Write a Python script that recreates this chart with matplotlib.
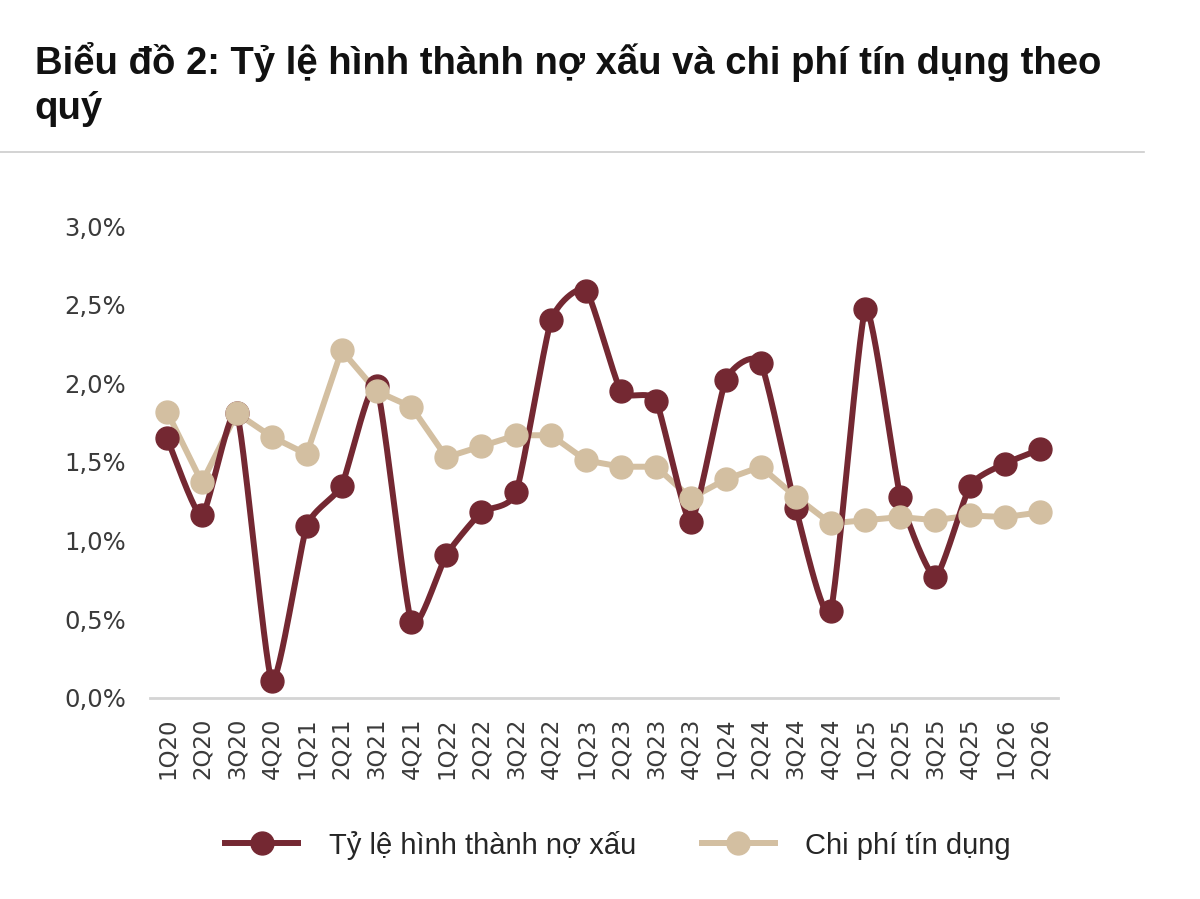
import numpy as np
import matplotlib
matplotlib.use("Agg")
import matplotlib.pyplot as plt
from matplotlib.ticker import FuncFormatter
from matplotlib.lines import Line2D

quarters = ["1Q20", "2Q20", "3Q20", "4Q20", "1Q21", "2Q21", "3Q21", "4Q21",
            "1Q22", "2Q22", "3Q22", "4Q22", "1Q23", "2Q23", "3Q23", "4Q23",
            "1Q24", "2Q24", "3Q24", "4Q24", "1Q25", "2Q25", "3Q25", "4Q25",
            "1Q26", "2Q26"]
npl_formation = [1.65, 1.16, 1.81, 0.11, 1.09, 1.35, 1.98, 0.48,
                 0.91, 1.18, 1.31, 2.40, 2.59, 1.95, 1.89, 1.12,
                 2.02, 2.13, 1.21, 0.55, 2.47, 1.28, 0.77, 1.35,
                 1.49, 1.58]
credit_cost = [1.82, 1.37, 1.81, 1.66, 1.55, 2.21, 1.95, 1.85,
               1.53, 1.60, 1.67, 1.67, 1.51, 1.47, 1.47, 1.27,
               1.39, 1.47, 1.28, 1.11, 1.13, 1.15, 1.13, 1.16,
               1.15, 1.18]
yticks = [0.0, 0.5, 1.0, 1.5, 2.0, 2.5, 3.0]

title = "Biểu đồ 2: Tỷ lệ hình thành nợ xấu và chi phí tín dụng theo\nquý"
label_npl = "Tỷ lệ hình thành nợ xấu"
label_cc = "Chi phí tín dụng"

RED = "#742832"
BEIGE = "#D3BFA1"


def cardinal(x, y, s=0.55, n=30):
    x = np.asarray(x, float)
    y = np.asarray(y, float)
    N = len(x)
    def tangents(p):
        m = np.zeros(N)
        m[1:-1] = s * (p[2:] - p[:-2]) / 2
        m[0] = s * (p[1] - p[0])
        m[-1] = s * (p[-1] - p[-2])
        return m
    mx, my = tangents(x), tangents(y)
    t = np.linspace(0, 1, n, endpoint=False)
    h00 = 2 * t**3 - 3 * t**2 + 1
    h10 = t**3 - 2 * t**2 + t
    h01 = -2 * t**3 + 3 * t**2
    h11 = t**3 - t**2
    xs, ys = [], []
    for i in range(N - 1):
        xs.append(h00 * x[i] + h10 * mx[i] + h01 * x[i + 1] + h11 * mx[i + 1])
        ys.append(h00 * y[i] + h10 * my[i] + h01 * y[i + 1] + h11 * my[i + 1])
    xs.append([x[-1]])
    ys.append([y[-1]])
    return np.concatenate(xs), np.concatenate(ys)


fig = plt.figure(figsize=(12, 8.99), dpi=100)
ax = fig.add_axes([0.1246, 0.2236, 0.7567, 0.525])

xi = np.arange(len(quarters))
LW = 4.3
MS = 16.5

ax.plot(xi, credit_cost, color=BEIGE, lw=LW, solid_capstyle="round",
        solid_joinstyle="round", zorder=2, clip_on=False)
sx, sy = cardinal(xi, npl_formation)
ax.plot(sx, sy, color=RED, lw=LW, solid_capstyle="round", zorder=4, clip_on=False)
ax.plot(xi, npl_formation, linestyle="none", marker="o", ms=MS,
        color=RED, zorder=5, clip_on=False)
ax.plot(xi, credit_cost, linestyle="none", marker="o", ms=MS,
        color=BEIGE, zorder=7, clip_on=False)

ax.set_xlim(-0.5, len(quarters) - 0.5)
ax.set_ylim(0, 3.0)
ax.set_yticks(yticks)
ax.yaxis.set_major_formatter(FuncFormatter(lambda v, p: f"{v:.1f}".replace(".", ",") + "%"))
ax.set_xticks(xi)
ax.set_xticklabels(quarters, rotation=90)

for s in ["top", "right", "left"]:
    ax.spines[s].set_visible(False)
ax.spines["bottom"].set_color("#d4d4d4")
ax.spines["bottom"].set_linewidth(2)
ax.tick_params(axis="both", length=0, colors="#3a3a3a")
ax.tick_params(axis="y", pad=17, labelsize=17.5)
ax.tick_params(axis="x", pad=14, labelsize=16.5)
for lab in ax.get_xticklabels() + ax.get_yticklabels():
    lab.set_family("DejaVu Sans")

fig.text(0.029, 1 - 42 / 899, title, fontsize=27.5, fontweight="bold",
         family=["Liberation Sans", "DejaVu Sans"], color="#111111",
         va="top", ha="left", linespacing=1.32)
fig.add_artist(Line2D([0, 0.953], [1 - 152 / 899, 1 - 152 / 899],
                      color="#cccccc", lw=1.2, transform=fig.transFigure))

handles = [Line2D([], [], color=RED, lw=LW, marker="o", ms=MS),
           Line2D([], [], color=BEIGE, lw=LW, marker="o", ms=MS)]
fig.legend(handles, [label_npl, label_cc], loc="center", ncol=2,
           bbox_to_anchor=(0.515, 1 - 845 / 899), frameon=False,
           prop={"family": ["Liberation Sans", "DejaVu Sans"], "size": 21},
           handlelength=2.5, handletextpad=1.05, columnspacing=2.25, labelcolor="#262626")

fig.savefig("out.png", dpi=100, facecolor="white")
